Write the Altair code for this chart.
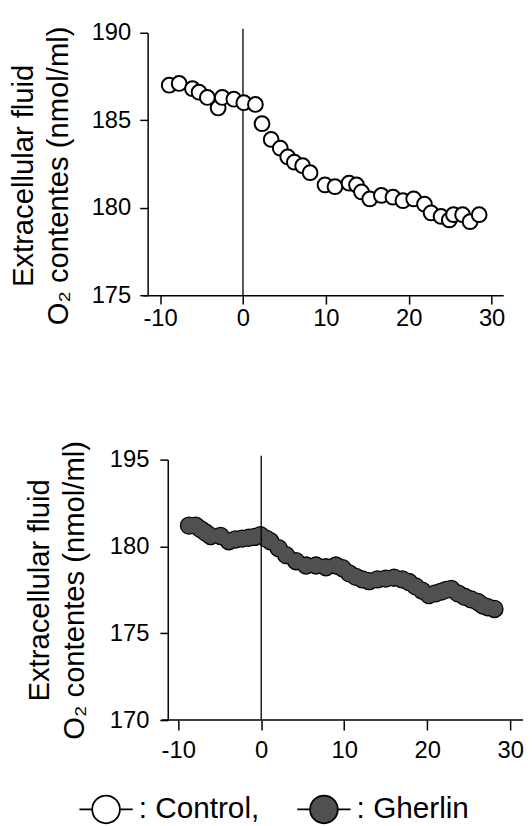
import altair as alt
import pandas as pd

FONT = "Liberation Sans"

# ---- data ----
control_time = [-8.9, -7.7, -6.1, -5.3, -4.3, -3.0, -2.5, -1.1, 0.1, 1.5, 2.3, 3.4,
                4.5, 5.4, 6.2, 7.2, 8.1, 9.9, 11.1, 12.8, 13.7, 14.3, 15.3, 16.7,
                18.1, 19.3, 20.6, 21.9, 22.7, 23.9, 24.9, 25.4, 26.5, 27.4, 28.5]
control_o2 = [187.0, 187.1, 186.8, 186.6, 186.3, 185.7, 186.3, 186.2, 186.0, 185.9,
              184.8, 183.9, 183.4, 182.9, 182.6, 182.4, 182.0, 181.3, 181.2, 181.4,
              181.3, 180.9, 180.5, 180.7, 180.6, 180.4, 180.5, 180.2, 179.7, 179.5,
              179.3, 179.6, 179.6, 179.2, 179.6]

gherlin_time = [-8.7, -7.9, -7.3, -6.7, -6.1, -4.9, -3.9, -3.1, -2.3, -1.5, -0.8, -0.1,
                0.6, 1.1, 2.1, 3.0, 4.2, 5.4, 6.6, 7.8, 9.0, 9.8, 10.6, 11.4, 12.2,
                13.0, 14.0, 15.0, 16.0, 17.0, 17.8, 18.6, 19.4, 20.2, 21.0, 21.7,
                22.3, 22.9, 23.7, 24.5, 25.3, 26.1, 26.7, 27.3, 28.1]
gherlin_o2 = [181.2, 181.2, 181.0, 180.8, 180.6, 180.6, 180.3, 180.4, 180.45, 180.5,
              180.55, 180.65, 180.45, 180.3, 179.9, 179.5, 179.15, 178.9, 178.9, 178.8,
              178.9, 178.75, 178.45, 178.25, 178.1, 178.0, 178.1, 178.15, 178.2, 178.1,
              177.95, 177.7, 177.45, 177.2, 177.3, 177.4, 177.5, 177.55, 177.3, 177.1,
              176.95, 176.8, 176.6, 176.5, 176.4]

groups = ["Control", "Gherlin"]
group_fills = ["white", "#505050"]

x_ticks = [-10, 0, 10, 20, 30]
top_y_ticks = [175, 180, 185, 190]
bottom_y_ticks = [170, 175, 180, 185]
bottom_y_labels = ["170", "175", "180", "195"]
y_title = ["Extracellular fluid", "O\u2082 contentes (nmol/ml)"]
onset = [0]

# ---- tables ----
ctrl = pd.DataFrame({"time": control_time, "o2": control_o2, "group": groups[0]})
gher = pd.DataFrame({"time": gherlin_time, "o2": gherlin_o2, "group": groups[1]})
onset_df = pd.DataFrame({"time": onset})

label_map = "{" + ",".join(f"'{v}':'{l}'" for v, l in zip(bottom_y_ticks, bottom_y_labels)) + "}"

LEGEND_PATH = ("M-1,0L-0.52,0M0.52,0L1,0"
               "M-0.52,0A0.52,0.52,0,1,1,0.52,0A0.52,0.52,0,1,1,-0.52,0Z")

fill_scale = alt.Scale(domain=groups, range=group_fills)
legend = alt.Legend(
    orient="none", direction="horizontal", title=None,
    legendX=-65, legendY=756,
    symbolType=LEGEND_PATH, symbolSize=2900,
    symbolStrokeColor="black", symbolStrokeWidth=1.8, symbolOpacity=1,
    labelFont=FONT, labelFontSize=30, labelColor="black", labelOffset=5,
    columnPadding=34,
    labelExpr="datum.label == 'Control' ? ': Control,' : '\u00a0: Gherlin'",
)

# ---- top panel (Control) ----
TW, TH = 364, 265
top_x = alt.X("time:Q", scale=alt.Scale(domain=[-12.1, 31.4], nice=False, zero=False),
              axis=alt.Axis(values=x_ticks, title=None, tickSize=9, labelPadding=3,
                            labelExpr="'' + datum.value"))
top_y = alt.Y("o2:Q", scale=alt.Scale(domain=[175, 190], nice=False, zero=False),
              axis=alt.Axis(values=top_y_ticks, title=y_title, offset=-5,
                            tickSize=8, labelPadding=9, titlePadding=18, titleY=144))

top_rule = alt.Chart(onset_df).mark_rule(color="black", strokeWidth=1.3).encode(
    x=alt.X("time:Q"), y=alt.value(-4), y2=alt.value(TH))
top_pts = alt.Chart(ctrl).mark_circle(size=222, stroke="black", strokeWidth=2.0,
                                      opacity=1).encode(
    x=top_x, y=top_y,
    fill=alt.Fill("group:N", scale=fill_scale, legend=legend))
top = alt.layer(top_rule, top_pts).properties(width=TW, height=TH)

# ---- bottom panel (Gherlin) ----
BW, BH = 384, 263
bot_x = alt.X("time:Q", scale=alt.Scale(domain=[-14.28, 31.54], nice=False, zero=False),
              axis=alt.Axis(values=x_ticks, title=None, tickSize=10, labelPadding=9,
                            domain=False, labelExpr="'' + datum.value"))
bot_y = alt.Y("o2:Q", scale=alt.Scale(domain=[170, 185], nice=False, zero=False),
              axis=alt.Axis(values=bottom_y_ticks, title=y_title, offset=-25.3,
                            tickSize=8, labelPadding=11, titlePadding=20,
                            labelExpr=f"{label_map}[datum.value] || datum.label"))

bot_edge = alt.Chart(gher).mark_circle(size=254, stroke="black", strokeWidth=2.6,
                                       opacity=1).encode(
    x=bot_x, y=bot_y,
    fill=alt.Fill("group:N", scale=fill_scale, legend=legend))
bot_fill = alt.Chart(gher).mark_circle(size=254, strokeWidth=0, opacity=1).encode(
    x="time:Q", y="o2:Q",
    fill=alt.Fill("group:N", scale=fill_scale, legend=legend))
bot_rule = alt.Chart(onset_df).mark_rule(color="black", strokeWidth=1.3).encode(
    x=alt.X("time:Q"), y=alt.value(-4), y2=alt.value(BH))
bot_axisline = alt.Chart(onset_df).mark_rule(color="black", strokeWidth=1.5).encode(
    x=alt.value(19), x2=alt.value(BW), y=alt.value(BH))
bottom = alt.layer(bot_edge, bot_fill, bot_rule, bot_axisline).properties(width=BW, height=BH)

chart = alt.vconcat(top, bottom, spacing=110).resolve_scale(
    x="independent", y="independent", fill="shared"
).properties(
    padding={"left": 0, "top": 9, "right": 0, "bottom": 0}
).configure_view(stroke=None).configure_axis(
    grid=False, domainColor="black", domainWidth=1.5, tickColor="black", tickWidth=1.5,
    labelFont=FONT, labelFontSize=24, labelColor="black",
    titleFont=FONT, titleFontSize=29.5, titleFontWeight="normal", titleColor="black",
    titleLineHeight=35,
).configure_text(font=FONT)

chart.save("out.html", embed_options={"renderer": "svg", "actions": False})
